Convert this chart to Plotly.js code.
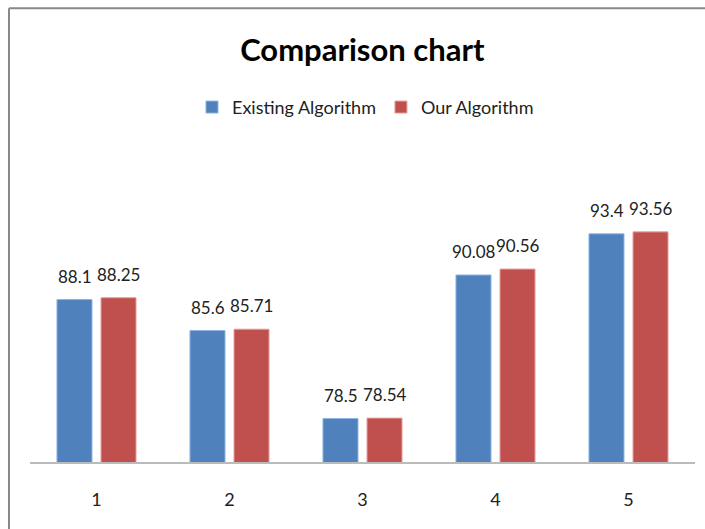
<!DOCTYPE html>
<html>
<head>
<meta charset="utf-8">
<script src="https://cdn.plot.ly/plotly-3.0.1.min.js"></script>
<style>html,body{margin:0;padding:0;background:#fff;}#chart{width:705px;height:529px;}</style>
</head>
<body>
<div id="chart"></div>
<script>
const categories = ['1', '2', '3', '4', '5'];
const existingValues = [88.1, 85.6, 78.5, 90.08, 93.4];
const ourValues = [88.25, 85.71, 78.54, 90.56, 93.56];
const seriesNames = ['Existing Algorithm', 'Our Algorithm'];
const seriesColors = ['#4F81BD', '#C0504D'];
const seriesEdges = ['#8DB3E2', '#E6A09E'];

const FONT = 'Lato, "Open Sans", sans-serif';
const allSeries = [existingValues, ourValues];

const traces = allSeries.map((vals, i) => ({
  type: 'bar', name: seriesNames[i], x: categories, y: vals,
  marker: {color: seriesColors[i], line: {color: seriesEdges[i], width: 1}},
  hoverinfo: 'x+y'
}));

// data labels positioned on each bar via the axis scales (x = category index)
const annotations = [];
allSeries.forEach((vals, i) => {
  vals.forEach((v, j) => {
    annotations.push({
      x: j, y: v, xref: 'x', yref: 'y',
      text: String(v), showarrow: false,
      xanchor: 'center', yanchor: 'bottom',
      xshift: i === 0 ? -22 : 22, yshift: 11,
      font: {family: FONT, size: 17, color: '#222'}
    });
  });
});

const layout = {
  width: 705, height: 529,
  margin: {l: 30, r: 10, t: 214, b: 67},
  paper_bgcolor: '#fff', plot_bgcolor: '#fff',
  font: {family: FONT, size: 16, color: '#222'},
  title: {text: '<b>Comparison chart</b>', font: {family: FONT, size: 31, color: '#000'}, x: 0.514, xanchor: 'center', y: 0.905, yanchor: 'middle'},
  barmode: 'group', bargap: 0.338, bargroupgap: 0.2045,
  showlegend: true,
  legend: {orientation: 'h', x: 0.5045, xanchor: 'center', y: 1.43, yanchor: 'middle', font: {family: FONT, size: 18, color: '#222'}, itemwidth: 30},
  xaxis: {type: 'category', range: [-0.5, categories.length - 0.5], autorange: false, showline: true, linecolor: '#BBBBBB', linewidth: 2, showgrid: false, zeroline: false, ticks: '', ticklabelstandoff: 20, tickfont: {family: FONT, size: 18, color: '#222'}},
  yaxis: {range: [75, 95], autorange: false, visible: false, showgrid: false, zeroline: false},
  annotations: annotations,
  shapes: [
    {type: 'line', xref: 'paper', yref: 'paper', x0: -0.0316, x1: 1.02, y0: 1.83, y1: 1.83, line: {color: '#888', width: 2}},
    {type: 'line', xref: 'paper', yref: 'paper', x0: -0.0316, x1: -0.0316, y0: 1.83, y1: -0.3, line: {color: '#888', width: 2}}
  ]
};

Plotly.newPlot('chart', traces, layout, {displayModeBar: false, staticPlot: true});
</script>
</body>
</html>
